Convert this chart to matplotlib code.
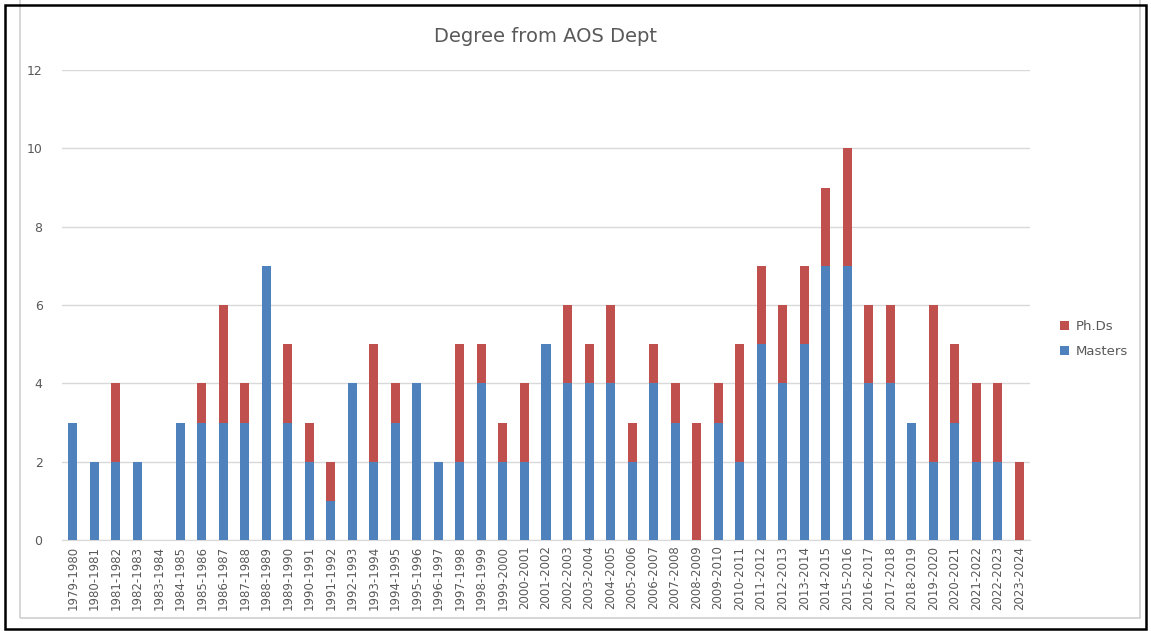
import matplotlib.pyplot as plt
from matplotlib.patches import Rectangle
import numpy as np

# данные
years = ["1979-1980", "1980-1981", "1981-1982", "1982-1983", "1983-1984",
         "1984-1985", "1985-1986", "1986-1987", "1987-1988", "1988-1989",
         "1989-1990", "1990-1991", "1991-1992", "1992-1993", "1993-1994",
         "1994-1995", "1995-1996", "1996-1997", "1997-1998", "1998-1999",
         "1999-2000", "2000-2001", "2001-2002", "2002-2003", "2003-2004",
         "2004-2005", "2005-2006", "2006-2007", "2007-2008", "2008-2009",
         "2009-2010", "2010-2011", "2011-2012", "2012-2013", "2013-2014",
         "2014-2015", "2015-2016", "2016-2017", "2017-2018", "2018-2019",
         "2019-2020", "2020-2021", "2021-2022", "2022-2023", "2023-2024"]
masters = [3, 2, 2, 2, 0, 3, 3, 3, 3, 7,
           3, 2, 1, 4, 2, 3, 4, 2, 2, 4,
           2, 2, 5, 4, 4, 4, 2, 4, 3, 0,
           3, 2, 5, 4, 5, 7, 7, 4, 4, 3,
           2, 3, 2, 2, 0]
phds = [0, 0, 2, 0, 0, 0, 1, 3, 1, 0,
        2, 1, 1, 0, 3, 1, 0, 0, 3, 1,
        1, 2, 0, 2, 1, 2, 1, 1, 1, 3,
        1, 3, 2, 2, 2, 2, 3, 2, 2, 0,
        4, 2, 2, 2, 2]

blue = "#4F81BD"
red = "#C0504D"
grey_text = "#595959"

fig = plt.figure(figsize=(11.51, 6.31), dpi=100)
ax = fig.add_axes([62 / 1151, 1 - 540 / 631, 968 / 1151, 470 / 631])

x = np.arange(len(years))
ax.bar(x, masters, width=0.42, color=blue, label="Masters", zorder=3)
ax.bar(x, phds, width=0.42, bottom=masters, color=red, label="Ph.Ds", zorder=3)

ax.set_xlim(-0.5, len(years) - 0.5)
ax.set_ylim(0, 12)
ax.set_yticks(range(0, 13, 2))
ax.set_xticks(x)
ax.set_xticklabels(years, rotation=90, fontsize=8.5, color=grey_text)
ax.tick_params(axis="y", labelsize=9, colors=grey_text, length=0, pad=14)
ax.tick_params(axis="x", length=0, pad=4)
ax.grid(axis="y", color="#D9D9D9", linewidth=1, zorder=0)
for side in ["top", "right", "left"]:
    ax.spines[side].set_visible(False)
ax.spines["bottom"].set_color("#D9D9D9")

ax.set_title("Degree from AOS Dept", fontsize=14, color=grey_text, pad=20)

handles, labels = ax.get_legend_handles_labels()
fig.legend(handles[::-1], labels[::-1], loc="center left",
           bbox_to_anchor=(1048 / 1151, 1 - 339 / 631), frameon=False,
           fontsize=9.5, labelcolor=grey_text, handlelength=0.7,
           handleheight=0.7, handletextpad=0.5, labelspacing=0.9)

# рамки вокруг картинки
fig.patches.append(Rectangle((20 / 1151, 13 / 631), 1120 / 1151, 620 / 631,
                             transform=fig.transFigure, fill=False,
                             edgecolor="#D0D0D0", linewidth=1.2))
fig.patches.append(Rectangle((5 / 1151, 2 / 631), 1141 / 1151, 624 / 631,
                             transform=fig.transFigure, fill=False,
                             edgecolor="black", linewidth=1.8))

fig.savefig("out.png", dpi=100)
